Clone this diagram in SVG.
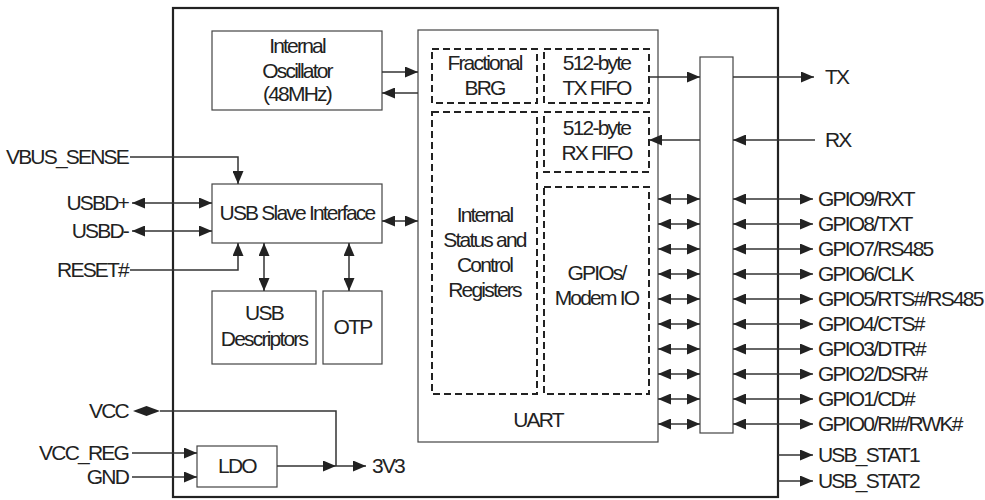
<svg xmlns="http://www.w3.org/2000/svg" width="985" height="500" viewBox="0 0 985 500">
<style>
text{font-family:"Liberation Sans",Arial,sans-serif;font-size:21px;fill:#222;letter-spacing:-1.8px}
.c{text-anchor:middle}
.r{text-anchor:end}
.box{fill:#fff;stroke:#444;stroke-width:1.2}
.dash{fill:none;stroke:#222;stroke-width:2;stroke-dasharray:7,4}
.ln{fill:none;stroke:#333;stroke-width:1.5}
.a{marker-end:url(#ah)}
.d{marker-start:url(#ah);marker-end:url(#ah)}
</style>
<defs>
<marker id="ah" markerUnits="userSpaceOnUse" markerWidth="13" markerHeight="11" refX="13" refY="5.5" orient="auto-start-reverse">
<path d="M0,0 L13,5.5 L0,11 z" fill="#222"/>
</marker>
</defs>
<rect id="chip" x="173" y="8" width="605" height="489" fill="#fff" stroke="#222" stroke-width="2.2"/>
<g id="oscillator">
<rect class="box" x="212" y="31" width="170" height="79"/>
<text class="c" x="297" y="53">Internal</text>
<text class="c" x="297" y="78">Oscillator</text>
<text class="c" x="297" y="101">(48MHz)</text>
</g>
<g id="usb-slave">
<rect class="box" x="212" y="184" width="170" height="59"/>
<text class="c" x="297" y="220">USB Slave Interface</text>
</g>
<g id="usb-descriptors">
<rect class="box" x="212" y="291" width="104" height="73"/>
<text class="c" x="264" y="320">USB</text>
<text class="c" x="264" y="346">Descriptors</text>
</g>
<g id="otp">
<rect class="box" x="323" y="291" width="59" height="73"/>
<text class="c" x="352.5" y="334">OTP</text>
</g>
<g id="ldo">
<rect class="box" x="197" y="446" width="80" height="41"/>
<text class="c" x="237" y="473">LDO</text>
</g>
<g id="uart">
<rect class="box" x="418" y="30" width="240" height="412"/>
<text class="c" x="538" y="427">UART</text>
</g>
<g id="fractional-brg">
<rect class="dash" x="432" y="49" width="105" height="54"/>
<text class="c" x="484.5" y="70">Fractional</text>
<text class="c" x="484.5" y="95">BRG</text>
</g>
<g id="tx-fifo">
<rect class="dash" x="544" y="49" width="105" height="54"/>
<text class="c" x="596.5" y="70">512-byte</text>
<text class="c" x="596.5" y="95">TX FIFO</text>
</g>
<g id="rx-fifo">
<rect class="dash" x="544" y="112" width="105" height="60"/>
<text class="c" x="596.5" y="135">512-byte</text>
<text class="c" x="596.5" y="160">RX FIFO</text>
</g>
<g id="status-registers">
<rect class="dash" x="432" y="112" width="105" height="282"/>
<text class="c" x="484.5" y="222">Internal</text>
<text class="c" x="484.5" y="247">Status and</text>
<text class="c" x="484.5" y="272">Control</text>
<text class="c" x="484.5" y="297">Registers</text>
</g>
<g id="gpios-modem">
<rect class="dash" x="544" y="187" width="105" height="207"/>
<text class="c" x="596.5" y="280">GPIOs/</text>
<text class="c" x="596.5" y="305">Modem IO</text>
</g>
<g id="mux">
<rect class="box" x="700" y="57" width="33" height="376"/>
</g>
<g id="connectors">
<path class="ln a" d="M382,72 H418"/>
<path class="ln a" d="M418,93 H382"/>
<path class="ln d" d="M382,221 H418"/>
<path class="ln a" d="M130,157 H238 V184"/>
<path class="ln d" d="M132,203 H212"/>
<path class="ln d" d="M132,231 H212"/>
<path class="ln a" d="M130,270 H238 V243"/>
<path class="ln d" d="M264,243 V291"/>
<path class="ln d" d="M349,243 V291"/>
<path class="ln a" d="M649,77 H700"/>
<path class="ln a" d="M733,77 H814"/>
<path class="ln a" d="M815,140 H733"/>
<path class="ln a" d="M700,140 H649"/>
<path class="ln d" d="M658,199 H700"/><path class="ln d" d="M733,199 H813"/>
<path class="ln d" d="M658,224 H700"/><path class="ln d" d="M733,224 H813"/>
<path class="ln d" d="M658,249 H700"/><path class="ln d" d="M733,249 H813"/>
<path class="ln d" d="M658,274 H700"/><path class="ln d" d="M733,274 H813"/>
<path class="ln d" d="M658,299 H700"/><path class="ln d" d="M733,299 H813"/>
<path class="ln d" d="M658,324 H700"/><path class="ln d" d="M733,324 H813"/>
<path class="ln d" d="M658,349 H700"/><path class="ln d" d="M733,349 H813"/>
<path class="ln d" d="M658,374 H700"/><path class="ln d" d="M733,374 H813"/>
<path class="ln d" d="M658,399 H700"/><path class="ln d" d="M733,399 H813"/>
<path class="ln d" d="M658,424 H700"/><path class="ln d" d="M733,424 H813"/>
<path class="ln a" d="M778,455 H813"/>
<path class="ln a" d="M778,481 H813"/>
<path d="M133,411 L146.5,406 L160,411 L146.5,416 z" fill="#222"/>
<path class="ln" d="M160,411 H336 V466"/>
<path class="ln a" d="M132,453 H197"/>
<path class="ln a" d="M132,477 H197"/>
<path class="ln a" d="M277,466 H336"/>
<path class="ln a" d="M336,466 H366"/>
</g>
<g id="labels">
<text class="r" x="128" y="164">VBUS_SENSE</text>
<text class="r" x="128" y="210">USBD+</text>
<text class="r" x="128" y="238">USBD-</text>
<text class="r" x="128" y="277">RESET#</text>
<text class="r" x="128" y="418">VCC</text>
<text class="r" x="128" y="460">VCC_REG</text>
<text class="r" x="128" y="484">GND</text>
<text x="372" y="473">3V3</text>
<text x="825" y="84">TX</text>
<text x="825" y="147">RX</text>
<text x="818" y="206">GPIO9/RXT</text>
<text x="818" y="231">GPIO8/TXT</text>
<text x="818" y="256">GPIO7/RS485</text>
<text x="818" y="281">GPIO6/CLK</text>
<text x="818" y="306">GPIO5/RTS#/RS485</text>
<text x="818" y="331">GPIO4/CTS#</text>
<text x="818" y="356">GPIO3/DTR#</text>
<text x="818" y="381">GPIO2/DSR#</text>
<text x="818" y="406">GPIO1/CD#</text>
<text x="818" y="431">GPIO0/RI#/RWK#</text>
<text x="818" y="462">USB_STAT1</text>
<text x="818" y="488">USB_STAT2</text>
</g>
</svg>
